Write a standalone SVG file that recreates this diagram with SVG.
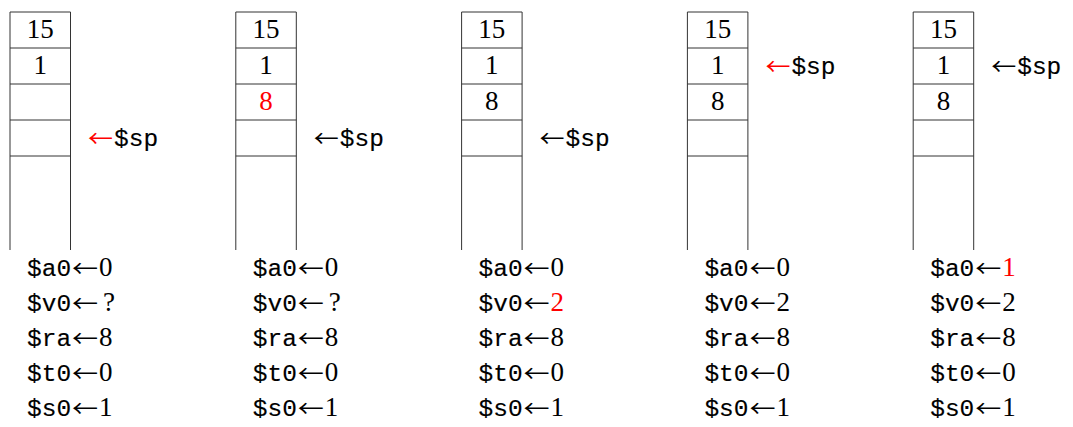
<svg xmlns="http://www.w3.org/2000/svg" width="1073" height="427" viewBox="0 0 1073 427">
  <style>
    .cell { fill: none; stroke: #333; stroke-width: 1; }
    .num { font-family: "Liberation Serif", "DejaVu Serif", serif; font-size: 27px; fill: #000; text-anchor: middle; }
    .arr { font-family: "Noto Sans CJK JP", "DejaVu Serif", sans-serif; font-size: 23px; fill: #000; }
    .reg { font-family: "Liberation Mono", "DejaVu Sans Mono", monospace; font-size: 24.5px; fill: #000; stroke: #000; stroke-width: 0.15; }
    .val { font-family: "Liberation Serif", "DejaVu Serif", serif; font-size: 27px; fill: #000; }
    .red { fill: #ff0000; }
  </style>
  <defs>
    <!-- one stack frame: open-bottomed column with four ruled cells -->
    <g id="stack">
      <path class="cell" d="M0,250 V12 H60.5 V250 M0,48 H60.5 M0,84 H60.5 M0,120 H60.5 M0,156 H60.5"/>
    </g>
  </defs>

  <!-- Stack 1 -->
  <g id="stack1" transform="translate(10,0)">
    <use href="#stack"/>
    <text class="num" x="30.25" y="37.5">15</text>
    <text class="num" x="30.25" y="73.5">1</text>
    <text class="arr red" x="78" y="147" textLength="25" lengthAdjust="spacingAndGlyphs">←</text>
    <text class="reg" x="104" y="146">$sp</text>
  </g>
  <g id="regs1" transform="translate(10,0)">
    <text class="reg" x="17" y="276">$a0</text><text class="arr" x="62" y="277" textLength="26" lengthAdjust="spacingAndGlyphs">←</text><text class="val" x="89" y="276">0</text>
    <text class="reg" x="17" y="311">$v0</text><text class="arr" x="62" y="312" textLength="26" lengthAdjust="spacingAndGlyphs">←</text><text class="val" x="93" y="311">?</text>
    <text class="reg" x="17" y="346">$ra</text><text class="arr" x="62" y="347" textLength="26" lengthAdjust="spacingAndGlyphs">←</text><text class="val" x="89" y="346">8</text>
    <text class="reg" x="17" y="381">$t0</text><text class="arr" x="62" y="382" textLength="26" lengthAdjust="spacingAndGlyphs">←</text><text class="val" x="89" y="381">0</text>
    <text class="reg" x="17" y="416">$s0</text><text class="arr" x="62" y="417" textLength="26" lengthAdjust="spacingAndGlyphs">←</text><text class="val" x="89" y="416">1</text>
  </g>

  <!-- Stack 2 -->
  <g id="stack2" transform="translate(235.8,0)">
    <use href="#stack"/>
    <text class="num" x="30.25" y="37.5">15</text>
    <text class="num" x="30.25" y="73.5">1</text>
    <text class="num red" x="30.25" y="109.5">8</text>
    <text class="arr" x="78" y="147" textLength="25" lengthAdjust="spacingAndGlyphs">←</text>
    <text class="reg" x="104" y="146">$sp</text>
  </g>
  <g id="regs2" transform="translate(235.8,0)">
    <text class="reg" x="17" y="276">$a0</text><text class="arr" x="62" y="277" textLength="26" lengthAdjust="spacingAndGlyphs">←</text><text class="val" x="89" y="276">0</text>
    <text class="reg" x="17" y="311">$v0</text><text class="arr" x="62" y="312" textLength="26" lengthAdjust="spacingAndGlyphs">←</text><text class="val" x="93" y="311">?</text>
    <text class="reg" x="17" y="346">$ra</text><text class="arr" x="62" y="347" textLength="26" lengthAdjust="spacingAndGlyphs">←</text><text class="val" x="89" y="346">8</text>
    <text class="reg" x="17" y="381">$t0</text><text class="arr" x="62" y="382" textLength="26" lengthAdjust="spacingAndGlyphs">←</text><text class="val" x="89" y="381">0</text>
    <text class="reg" x="17" y="416">$s0</text><text class="arr" x="62" y="417" textLength="26" lengthAdjust="spacingAndGlyphs">←</text><text class="val" x="89" y="416">1</text>
  </g>

  <!-- Stack 3 -->
  <g id="stack3" transform="translate(461.6,0)">
    <use href="#stack"/>
    <text class="num" x="30.25" y="37.5">15</text>
    <text class="num" x="30.25" y="73.5">1</text>
    <text class="num" x="30.25" y="109.5">8</text>
    <text class="arr" x="78" y="147" textLength="25" lengthAdjust="spacingAndGlyphs">←</text>
    <text class="reg" x="104" y="146">$sp</text>
  </g>
  <g id="regs3" transform="translate(461.6,0)">
    <text class="reg" x="17" y="276">$a0</text><text class="arr" x="62" y="277" textLength="26" lengthAdjust="spacingAndGlyphs">←</text><text class="val" x="89" y="276">0</text>
    <text class="reg" x="17" y="311">$v0</text><text class="arr" x="62" y="312" textLength="26" lengthAdjust="spacingAndGlyphs">←</text><text class="val red" x="89" y="311">2</text>
    <text class="reg" x="17" y="346">$ra</text><text class="arr" x="62" y="347" textLength="26" lengthAdjust="spacingAndGlyphs">←</text><text class="val" x="89" y="346">8</text>
    <text class="reg" x="17" y="381">$t0</text><text class="arr" x="62" y="382" textLength="26" lengthAdjust="spacingAndGlyphs">←</text><text class="val" x="89" y="381">0</text>
    <text class="reg" x="17" y="416">$s0</text><text class="arr" x="62" y="417" textLength="26" lengthAdjust="spacingAndGlyphs">←</text><text class="val" x="89" y="416">1</text>
  </g>

  <!-- Stack 4 -->
  <g id="stack4" transform="translate(687.4,0)">
    <use href="#stack"/>
    <text class="num" x="30.25" y="37.5">15</text>
    <text class="num" x="30.25" y="73.5">1</text>
    <text class="num" x="30.25" y="109.5">8</text>
    <text class="arr red" x="78" y="75" textLength="25" lengthAdjust="spacingAndGlyphs">←</text>
    <text class="reg" x="104" y="74">$sp</text>
  </g>
  <g id="regs4" transform="translate(687.4,0)">
    <text class="reg" x="17" y="276">$a0</text><text class="arr" x="62" y="277" textLength="26" lengthAdjust="spacingAndGlyphs">←</text><text class="val" x="89" y="276">0</text>
    <text class="reg" x="17" y="311">$v0</text><text class="arr" x="62" y="312" textLength="26" lengthAdjust="spacingAndGlyphs">←</text><text class="val" x="89" y="311">2</text>
    <text class="reg" x="17" y="346">$ra</text><text class="arr" x="62" y="347" textLength="26" lengthAdjust="spacingAndGlyphs">←</text><text class="val" x="89" y="346">8</text>
    <text class="reg" x="17" y="381">$t0</text><text class="arr" x="62" y="382" textLength="26" lengthAdjust="spacingAndGlyphs">←</text><text class="val" x="89" y="381">0</text>
    <text class="reg" x="17" y="416">$s0</text><text class="arr" x="62" y="417" textLength="26" lengthAdjust="spacingAndGlyphs">←</text><text class="val" x="89" y="416">1</text>
  </g>

  <!-- Stack 5 -->
  <g id="stack5" transform="translate(913.2,0)">
    <use href="#stack"/>
    <text class="num" x="30.25" y="37.5">15</text>
    <text class="num" x="30.25" y="73.5">1</text>
    <text class="num" x="30.25" y="109.5">8</text>
    <text class="arr" x="78" y="75" textLength="25" lengthAdjust="spacingAndGlyphs">←</text>
    <text class="reg" x="104" y="74">$sp</text>
  </g>
  <g id="regs5" transform="translate(913.2,0)">
    <text class="reg" x="17" y="276">$a0</text><text class="arr" x="62" y="277" textLength="26" lengthAdjust="spacingAndGlyphs">←</text><text class="val red" x="89" y="276">1</text>
    <text class="reg" x="17" y="311">$v0</text><text class="arr" x="62" y="312" textLength="26" lengthAdjust="spacingAndGlyphs">←</text><text class="val" x="89" y="311">2</text>
    <text class="reg" x="17" y="346">$ra</text><text class="arr" x="62" y="347" textLength="26" lengthAdjust="spacingAndGlyphs">←</text><text class="val" x="89" y="346">8</text>
    <text class="reg" x="17" y="381">$t0</text><text class="arr" x="62" y="382" textLength="26" lengthAdjust="spacingAndGlyphs">←</text><text class="val" x="89" y="381">0</text>
    <text class="reg" x="17" y="416">$s0</text><text class="arr" x="62" y="417" textLength="26" lengthAdjust="spacingAndGlyphs">←</text><text class="val" x="89" y="416">1</text>
  </g>
</svg>
